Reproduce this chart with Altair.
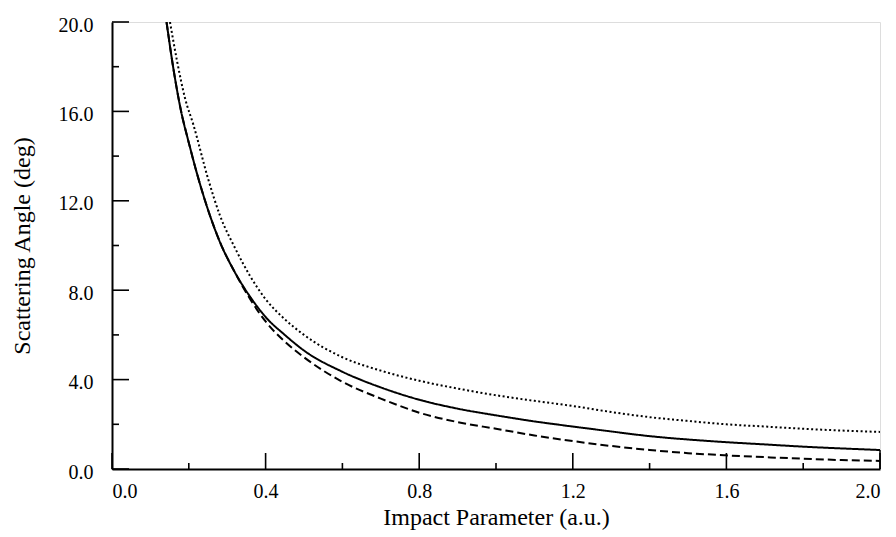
import altair as alt
import pandas as pd

# Impact parameter (a.u.) and scattering angle (deg)
solid_b = [0.142, 0.16, 0.18, 0.20, 0.22, 0.25, 0.28, 0.32, 0.36, 0.40, 0.45, 0.50, 0.60, 0.70, 0.80,
           0.90, 1.00, 1.10, 1.20, 1.30, 1.40, 1.50, 1.60, 1.70, 1.80, 1.90, 2.00]
solid_theta = [20.0, 17.9, 16.0, 14.6, 13.3, 11.6, 10.2, 8.8, 7.7, 6.8, 6.0, 5.3, 4.35, 3.65, 3.1,
               2.7, 2.4, 2.13, 1.9, 1.68, 1.47, 1.32, 1.2, 1.1, 1.0, 0.92, 0.85]

dashed_b = [0.142, 0.16, 0.18, 0.20, 0.22, 0.25, 0.28, 0.32, 0.36, 0.40, 0.45, 0.50, 0.60, 0.70, 0.75,
            0.80, 0.90, 1.00, 1.10, 1.20, 1.30, 1.40, 1.50, 1.60, 1.70, 1.80, 1.90, 2.00]
dashed_theta = [20.0, 17.9, 16.0, 14.6, 13.3, 11.6, 10.2, 8.8, 7.6, 6.6, 5.7, 5.0, 3.9, 3.15, 2.82,
                2.52, 2.1, 1.8, 1.5, 1.25, 1.03, 0.85, 0.71, 0.61, 0.53, 0.46, 0.4, 0.36]

dotted_b = [0.151, 0.17, 0.19, 0.212, 0.25, 0.281, 0.32, 0.359, 0.40, 0.45, 0.50, 0.60, 0.70, 0.80,
            0.90, 1.00, 1.10, 1.20, 1.30, 1.40, 1.50, 1.60, 1.70, 1.80, 1.90, 2.00]
dotted_theta = [20.0, 18.2, 16.6, 15.4, 13.0, 11.35, 9.9, 8.65, 7.6, 6.7, 6.0, 5.0, 4.4, 3.95,
                3.6, 3.3, 3.05, 2.82, 2.55, 2.32, 2.15, 2.0, 1.9, 1.8, 1.72, 1.66]

x_major = [0.0, 0.4, 0.8, 1.2, 1.6, 2.0]
x_minor = [0.2, 0.6, 1.0, 1.4, 1.8]
y_major = [0.0, 4.0, 8.0, 12.0, 16.0, 20.0]
y_minor = [2.0, 6.0, 10.0, 14.0, 18.0]

W, H = 768, 447
FONT = "Liberation Serif"

rows = []
for name, bs, ts in [("solid", solid_b, solid_theta), ("dashed", dashed_b, dashed_theta),
                     ("dotted", dotted_b, dotted_theta)]:
    for i, (b, t) in enumerate(zip(bs, ts)):
        rows.append({"series": name, "b": b, "theta": t, "order": i})
df = pd.DataFrame(rows)

xscale = alt.Scale(domain=[0, 2.0], nice=False, zero=False)
yscale = alt.Scale(domain=[0, 20.0], nice=False, zero=False)

lines = alt.Chart(df).mark_line(color="black", strokeWidth=2, clip=True,
                                interpolate="monotone").encode(
    x=alt.X("b:Q", scale=xscale,
            axis=alt.Axis(title="Impact Parameter (a.u.)", values=x_major, format=".1f",
                          ticks=False, tickSize=0, labelPadding=12, grid=False,
                          domainColor="black", domainWidth=2,
                          labelFont=FONT, labelFontSize=20, labelColor="black",
                          titleFont=FONT, titleFontSize=24, titleFontWeight="normal",
                          titleColor="black", titlePadding=4)),
    y=alt.Y("theta:Q", scale=yscale,
            axis=alt.Axis(title="Scattering Angle (deg)", values=y_major, format=".1f",
                          ticks=False, tickSize=0, labelPadding=19, labelOffset=3, grid=False,
                          domainColor="black", domainWidth=2,
                          labelFont=FONT, labelFontSize=20, labelColor="black",
                          titleFont=FONT, titleFontSize=24, titleFontWeight="normal",
                          titleColor="black", titlePadding=24)),
    detail="series:N",
    order="order:Q",
    strokeDash=alt.StrokeDash("series:N",
                              scale=alt.Scale(domain=["solid", "dashed", "dotted"],
                                              range=[[1, 0], [8, 4], [2, 2.5]]),
                              legend=None),
)

# the solid curve's end drops straight to the axis at b = 2.0
drop = alt.Chart(pd.DataFrame({"b": [solid_b[-1]], "theta": [solid_theta[-1]]})).mark_rule(
    color="black", strokeWidth=1.5).encode(
    x=alt.X("b:Q", scale=xscale), y=alt.Y("theta:Q", scale=yscale), y2=alt.value(H))

def xticks(vals, length, name):
    return alt.Chart(pd.DataFrame({name: vals})).mark_rule(
        color="black", strokeWidth=1.6).encode(
        x=alt.X(f"{name}:Q", scale=xscale), y=alt.value(H), y2=alt.value(H - length))

def yticks(vals, length, name):
    return alt.Chart(pd.DataFrame({name: vals})).mark_rule(
        color="black", strokeWidth=1.6).encode(
        y=alt.Y(f"{name}:Q", scale=yscale), x=alt.value(0), x2=alt.value(length))

chart = alt.layer(
    lines, drop,
    xticks(x_major, 16, "xmaj"), xticks(x_minor, 6, "xmin"),
    yticks(y_major, 17, "ymaj"), yticks(y_minor, 7, "ymin"),
).properties(
    width=W, height=H,
    autosize=alt.AutoSizeParams(type="none"),
    padding={"left": 112, "top": 22, "right": 16, "bottom": 68},
).configure_view(stroke=None).configure(background="white")

chart.save("out.html", embed_options={"renderer": "svg", "actions": False})
